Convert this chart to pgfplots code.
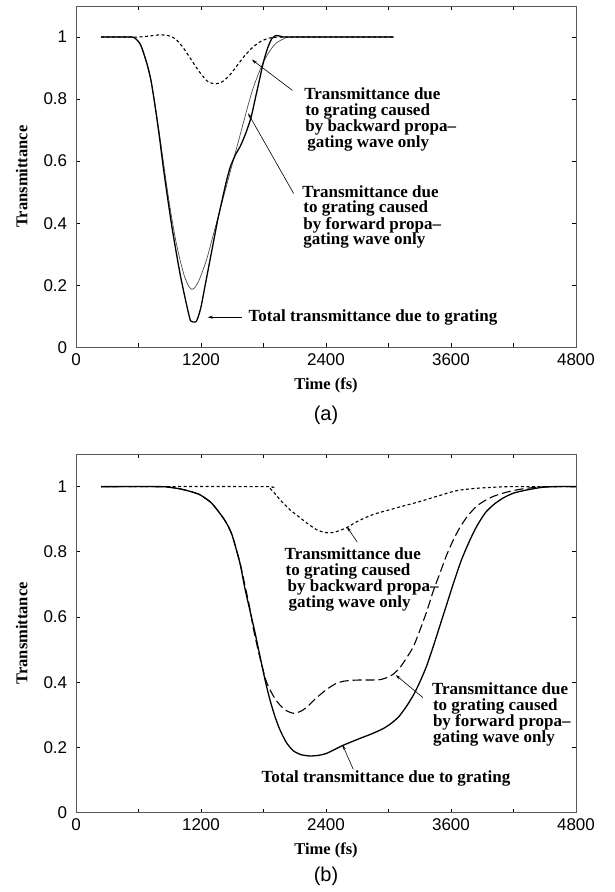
\documentclass[border=0pt]{standalone}
\usepackage{fontspec}
\setmainfont{Liberation Serif}
\setsansfont{Liberation Sans}
\usepackage{pgfplots}
\pgfplotsset{compat=1.18}
\usetikzlibrary{arrows.meta}
\newcommand\labfont{\fontsize{17}{15.5}\selectfont\bfseries}
\newcommand\axlabfont{\fontsize{16.5}{16.5}\selectfont\bfseries}
\pgfplotsset{
  myaxis/.style={
    scale only axis, width=500pt,
    xmin=0, xmax=4800, ymin=0, ymax=1.1,
    xtick={0,1200,2400,3600,4800},
    minor xtick={600,1800,3000,4200},
    ytick={0,0.2,0.4,0.6,0.8,1},
    tick align=inside, major tick length=4pt, minor tick length=4pt,
    axis line style={black!65, line width=0.8pt},
    tick style={black, line width=0.8pt},
    /pgf/number format/assume math mode=true,
    /pgf/number format/1000 sep={},
    tick label style={font=\fontsize{17}{17}\selectfont\sffamily},
    xticklabel style={yshift=-2.5pt},
    yticklabel style={xshift=-5.3pt},
    every axis y label/.style={at={(axis description cs:-0.1086,0.5)}, anchor=center, rotate=90, font=\axlabfont},
    ylabel={Transmittance},
    clip=false,
  },
  tot/.style={black, line width=1.3pt, smooth, tension=0.4},
  fwdA/.style={black!70, line width=0.7pt, smooth, tension=0.4},
  fwdB/.style={black, line width=1.1pt, dash pattern=on 9pt off 4pt, smooth, tension=0.4},
  bwd/.style={black, line width=1.1pt, dash pattern=on 3pt off 2.5pt, smooth, tension=0.4},
}
\begin{document}
\begin{tikzpicture}[x=1pt,y=1pt]
\useasboundingbox (0,0) rectangle (615,-892);
% ---------------- panel (a)
\begin{axis}[myaxis, at={(76pt,-347.3pt)}, anchor=south west, height=341.3pt,
  every axis x label/.style={at={(axis description cs:0.5,-0.1105)}, anchor=center, font=\axlabfont},
  xlabel={Time (fs)}]
\addplot[bwd] coordinates {(240,1) (500,1) (600,1.0) (700,1.003) (800,1.007) (880,1.005) (950,0.995) (1020,0.97) (1100,0.93) (1180,0.89) (1260,0.858) (1334,0.849) (1400,0.855) (1470,0.875) (1540,0.905) (1620,0.94) (1700,0.968) (1780,0.987) (1860,0.997) (1950,1.0) (2200,1.0) (3050,1.0)};
\addplot[fwdA] coordinates {(240,1) (500,1) (560,0.998) (620,0.975) (680,0.915) (720,0.86) (760,0.78) (800,0.69) (840,0.595) (880,0.5) (920,0.415) (960,0.34) (1000,0.28) (1040,0.23) (1080,0.198) (1110,0.187) (1140,0.192) (1180,0.215) (1220,0.25) (1260,0.29) (1300,0.34) (1340,0.39) (1380,0.44) (1420,0.49) (1460,0.54) (1500,0.59) (1540,0.64) (1580,0.69) (1620,0.74) (1660,0.79) (1700,0.835) (1750,0.88) (1800,0.92) (1860,0.955) (1920,0.98) (2000,0.995) (2100,1.0) (3050,1.0)};
\addplot[tot] coordinates {(240,1) (500,1) (560,0.998) (620,0.975) (680,0.915) (720,0.86) (760,0.775) (800,0.68) (840,0.575) (880,0.48) (920,0.39) (960,0.31) (1000,0.235) (1040,0.17) (1080,0.11) (1100,0.085) (1120,0.082) (1150,0.082) (1170,0.095) (1200,0.13) (1240,0.2) (1280,0.27) (1320,0.34) (1360,0.41) (1400,0.47) (1440,0.53) (1480,0.58) (1530,0.62) (1580,0.65) (1630,0.69) (1680,0.74) (1720,0.8) (1760,0.86) (1800,0.92) (1840,0.965) (1880,0.995) (1920,1.005) (1970,1.002) (2050,1.0) (3050,1.0)};
\draw[-{Stealth[length=5pt,width=3pt]}, line width=0.6pt] (axis cs:2078,0.828) -- (axis cs:1689,0.927);
\draw[-{Stealth[length=5pt,width=3pt]}, line width=0.6pt] (axis cs:2089,0.496) -- (axis cs:1652,0.754);
\draw[-{Stealth[length=5pt,width=3pt]}, line width=0.6pt] (axis cs:1590,0.097) -- (axis cs:1265,0.097);
\node[anchor=north west, inner sep=0pt, align=left, font=\labfont] at (axis cs:2190,0.836)
  {Transmittance due\\\hspace*{1pt}to grating caused\\\hspace*{1pt}by backward propa--\\\hspace*{3pt}gating wave only};
\node[anchor=north west, inner sep=0pt, align=left, font=\labfont] at (axis cs:2172,0.523)
  {Transmittance due\\\hspace*{1pt}to grating caused\\\hspace*{1pt}by forward propa--\\\hspace*{1pt}gating wave only};
\node[anchor=west, inner sep=0pt, font=\labfont] at (axis cs:1655,0.095) {Total transmittance due to grating};
\node[font=\fontsize{20}{20}\selectfont\sffamily] at (axis description cs:0.5,-0.1984) {(a)};
\end{axis}
% ---------------- panel (b)
\begin{axis}[myaxis, at={(76pt,-812.7pt)}, anchor=south west, height=358.7pt,
  every axis x label/.style={at={(axis description cs:0.5,-0.1051)}, anchor=center, font=\axlabfont},
  xlabel={Time (fs)}]
\addplot[bwd] coordinates {(240,1) (1800,1) (1860,0.995) (1920,0.975) (1958,0.96) (2050,0.93) (2150,0.905) (2230,0.885) (2310,0.868) (2380,0.86) (2438,0.858) (2500,0.862) (2598,0.874) (2660,0.886) (2726,0.897) (2800,0.908) (2886,0.918) (3000,0.928) (3100,0.937) (3206,0.946) (3320,0.956) (3420,0.966) (3526,0.976) (3620,0.985) (3700,0.99) (3850,0.995) (4006,0.998) (4200,1) (4800,1)};
\addplot[fwdB] coordinates {(240,1) (800,1) (900,0.998) (1000,0.993) (1100,0.985) (1190,0.975) (1300,0.95) (1400,0.91) (1450,0.885) (1500,0.85) (1574,0.767) (1620,0.7) (1670,0.625) (1702,0.565) (1766,0.475) (1830,0.4) (1900,0.355) (1958,0.33) (2020,0.313) (2086,0.305) (2150,0.31) (2214,0.323) (2300,0.35) (2406,0.378) (2490,0.395) (2566,0.403) (2650,0.406) (2726,0.407) (2830,0.407) (2918,0.408) (2990,0.415) (3046,0.425) (3110,0.445) (3174,0.475) (3240,0.51) (3302,0.56) (3370,0.62) (3430,0.68) (3500,0.74) (3558,0.79) (3620,0.835) (3686,0.875) (3760,0.91) (3846,0.94) (3930,0.958) (4006,0.97) (4100,0.98) (4200,0.988) (4326,0.995) (4480,0.999) (4600,1) (4800,1)};
\addplot[tot] coordinates {(240,1) (800,1) (900,0.998) (1000,0.993) (1100,0.985) (1190,0.975) (1300,0.95) (1400,0.91) (1450,0.885) (1500,0.85) (1574,0.765) (1620,0.69) (1670,0.62) (1720,0.55) (1766,0.48) (1820,0.4) (1862,0.346) (1910,0.295) (1958,0.254) (2020,0.215) (2086,0.19) (2160,0.178) (2246,0.174) (2330,0.176) (2406,0.182) (2490,0.195) (2566,0.207) (2650,0.218) (2726,0.228) (2840,0.242) (2950,0.258) (3030,0.275) (3100,0.295) (3170,0.325) (3238,0.36) (3300,0.4) (3366,0.45) (3430,0.51) (3490,0.57) (3560,0.64) (3630,0.71) (3700,0.775) (3780,0.835) (3850,0.88) (3930,0.92) (4010,0.945) (4100,0.965) (4200,0.98) (4330,0.99) (4480,0.998) (4600,1) (4800,1)};
\draw[-{Stealth[length=5pt,width=3pt]}, line width=0.6pt] (axis cs:2700,0.83) -- (axis cs:2600,0.877);
\draw[-{Stealth[length=5pt,width=3pt]}, line width=0.6pt] (axis cs:3330,0.353) -- (axis cs:3070,0.422);
\draw[-{Stealth[length=5pt,width=3pt]}, line width=0.6pt] (axis cs:2662,0.133) -- (axis cs:2558,0.208);
\node[anchor=north west, inner sep=0pt, align=left, font=\labfont] at (axis cs:2002,0.813)
  {Transmittance due\\\hspace*{1pt}to grating caused\\\hspace*{3pt}by backward propa--\\\hspace*{4pt}gating wave only};
\node[anchor=north west, inner sep=0pt, align=left, font=\labfont] at (axis cs:3416,0.399)
  {Transmittance due\\\hspace*{1pt}to grating caused\\\hspace*{1pt}by forward propa--\\\hspace*{1pt}gating wave only};
\node[anchor=west, inner sep=0pt, font=\labfont] at (axis cs:1780,0.104) {Total transmittance due to grating};
\node[font=\fontsize{20}{20}\selectfont\sffamily] at (axis description cs:0.5,-0.1784) {(b)};
\end{axis}
\end{tikzpicture}
\end{document}
